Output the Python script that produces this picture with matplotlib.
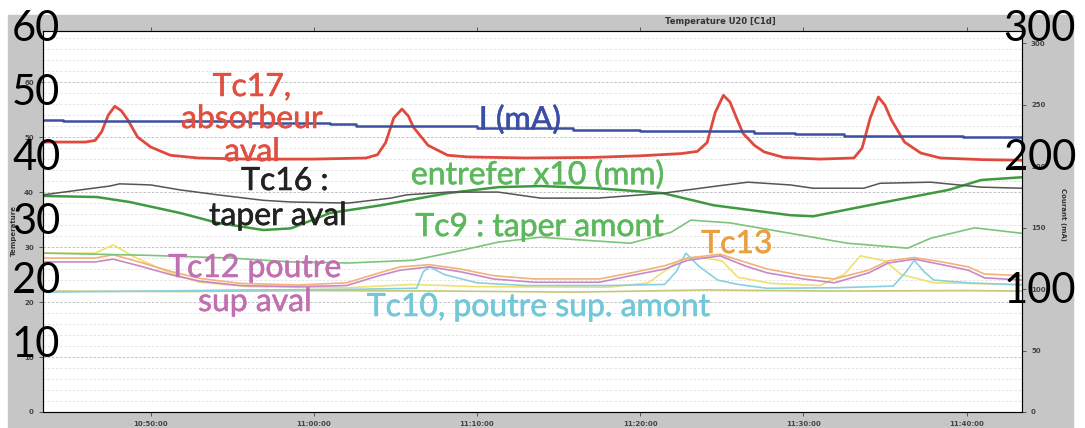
import matplotlib
matplotlib.use("Agg")
import matplotlib.pyplot as plt
import matplotlib.patheffects as pe
from matplotlib.patches import Rectangle
from matplotlib.ticker import MultipleLocator, FixedLocator

W, H = 1085, 428

# time in minutes after 10:00
x_ticks = [50, 60, 70, 80, 90, 100]
x_tick_labels = ["10:50:00", "11:00:00", "11:10:00", "11:20:00", "11:30:00", "11:40:00"]

# Tc17, absorbeur aval (red)
t_tc17 = [43.4, 46.0, 46.6, 47.0, 47.4, 47.8, 48.2, 48.6, 49.2, 50.0, 51.2, 52.9, 56.0, 60.0,
          63.2, 63.9, 64.4, 64.9, 65.4, 65.8, 66.1, 67.0, 68.2, 69.4, 73.0, 77.0, 80.0, 82.5,
          83.5, 84.1, 84.6, 85.1, 85.5, 85.9, 86.3, 87.0, 87.6, 88.8, 91.0, 93.1, 93.6, 94.1,
          94.6, 95.0, 95.4, 96.2, 97.2, 98.4, 101.0, 103.4]
v_tc17 = [49.1, 49.1, 49.4, 51.0, 54.0, 55.6, 54.8, 53.1, 50.0, 48.2, 46.7, 46.2, 46.0, 46.0,
          46.2, 46.8, 49.0, 53.5, 55.1, 53.8, 51.8, 48.5, 46.7, 46.4, 46.2, 46.3, 46.6, 47.0,
          47.4, 49.0, 54.5, 57.6, 56.4, 53.5, 50.7, 48.5, 47.3, 46.3, 46.0, 46.2, 48.0, 53.5,
          57.3, 55.8, 53.1, 49.1, 47.1, 46.2, 45.9, 45.8]

# Tc16 : taper aval (black)
t_tc16 = [43.4, 45.7, 47.5, 48.1, 50.0, 51.8, 54.1, 56.9, 58.6, 62.1, 64.7, 65.7, 68.2, 71.3,
          73.9, 77.4, 81.4, 84.7, 86.6, 89.2, 90.6, 93.7, 94.7, 97.8, 100.9, 103.4]
v_tc16 = [39.5, 40.4, 41.1, 41.5, 41.3, 40.4, 39.5, 38.5, 38.2, 38.0, 38.9, 39.5, 40.0, 40.0,
          38.9, 38.9, 39.8, 41.1, 41.8, 41.3, 40.7, 40.7, 41.6, 41.8, 40.9, 40.7]

# entrefer x10 (mm) (dark green)
t_entrefer = [43.4, 46.7, 48.7, 51.8, 54.1, 56.9, 58.6, 61.0, 64.1, 68.2, 71.3, 73.9, 77.4,
              81.4, 84.5, 87.6, 89.2, 90.6, 94.7, 98.9, 100.9, 103.4]
v_entrefer = [39.3, 39.1, 38.2, 36.2, 34.4, 33.1, 33.4, 36.2, 37.6, 39.8, 40.9, 41.1, 40.7,
              39.8, 37.6, 36.4, 35.8, 35.6, 38.0, 40.4, 42.2, 42.7]

# Tc9 : taper amont (light green)
t_tc9 = [43.4, 49.8, 54.9, 58.6, 62.1, 66.1, 69.2, 71.3, 73.9, 76.3, 79.4, 81.9, 83.1, 85.5,
         89.2, 92.7, 96.4, 97.8, 100.5, 103.4]
v_tc9 = [28.9, 28.5, 28.0, 27.3, 27.1, 27.6, 29.5, 30.9, 31.8, 31.3, 30.7, 32.7, 34.9, 34.4,
         32.5, 30.7, 29.8, 31.6, 33.5, 32.5]

# Tc12 poutre sup aval (magenta)
t_tc12 = [43.4, 46.6, 47.7, 49.4, 51.2, 53.0, 55.5, 59.0, 62.0, 64.0, 65.3, 67.1, 69.0, 71.0,
          73.5, 77.5, 79.6, 81.5, 82.9, 84.9, 86.5, 87.8, 90.0, 91.9, 94.0, 95.2, 96.8, 98.5,
          100.1, 101.1, 103.4]
v_tc12 = [27.3, 27.3, 27.8, 26.5, 25.0, 23.8, 23.0, 22.8, 23.0, 24.8, 25.8, 26.4, 25.5, 24.2,
          23.6, 23.6, 24.9, 26.0, 27.6, 28.4, 26.5, 25.3, 24.2, 23.5, 25.3, 27.1, 27.8, 26.8,
          25.8, 24.4, 24.0]

# Tc13 (orange)
t_tc13 = [43.4, 46.6, 47.7, 49.4, 51.2, 53.0, 55.5, 59.0, 62.0, 64.0, 65.3, 67.1, 69.0, 71.0,
          73.5, 77.5, 79.6, 81.5, 82.9, 84.9, 86.5, 87.8, 90.0, 91.9, 94.0, 95.2, 96.8, 98.5,
          100.1, 101.1, 103.4]
v_tc13 = [28.0, 28.0, 28.6, 27.2, 25.6, 24.3, 23.4, 23.1, 23.5, 25.3, 26.4, 26.8, 26.0, 24.8,
          24.2, 24.2, 25.4, 26.6, 28.0, 28.7, 27.2, 26.0, 24.8, 24.2, 25.8, 27.5, 28.1, 27.3,
          26.4, 25.1, 24.8]

# unlabelled yellow channel
t_yellow = [43.4, 46.6, 47.7, 49.0, 51.0, 53.0, 56.0, 62.0, 64.0, 66.0, 70.0, 78.0, 80.5,
            82.5, 83.5, 85.0, 86.0, 88.0, 91.0, 92.5, 93.5, 95.0, 96.0, 98.0, 103.4]
v_yellow = [28.9, 28.9, 30.4, 28.2, 25.5, 23.6, 22.8, 22.6, 22.9, 23.2, 22.8, 22.7, 23.5,
            27.8, 28.2, 27.5, 24.5, 23.4, 23.0, 25.0, 28.4, 27.5, 25.0, 23.5, 23.2]

# unlabelled olive channel
t_olive = [43.4, 52.0, 60.0, 68.0, 76.0, 84.0, 92.0, 100.0, 103.4]
v_olive = [22.0, 21.9, 22.1, 22.0, 21.8, 22.2, 22.0, 22.1, 22.0]

# Tc10, poutre sup. amont (cyan)
t_tc10 = [43.4, 50.0, 56.0, 62.0, 66.3, 66.7, 67.1, 68.0, 70.0, 73.0, 78.0, 81.5, 82.2, 82.8,
          83.6, 84.75, 86.0, 87.8, 92.0, 95.5, 96.3, 96.8, 97.4, 98.0, 100.1, 103.4]
v_tc10 = [21.8, 22.0, 22.2, 22.3, 22.5, 25.5, 26.4, 25.0, 23.5, 23.0, 23.0, 23.2, 25.5, 28.9,
          26.5, 24.0, 23.2, 22.5, 22.6, 22.9, 25.5, 27.6, 25.5, 24.0, 23.5, 23.1]

# I (mA), right axis
t_current = [43.4, 44.6, 52.0, 56.0, 61.0, 62.6, 70.0, 75.9, 80.0, 87.0, 89.5, 92.5, 99.8, 103.4]
v_current = [237.5, 237.0, 236.4, 235.4, 234.0, 232.6, 231.0, 229.8, 228.6, 227.0, 226.0,
             224.6, 223.4, 222.8]

fig = plt.figure(figsize=(W / 100, H / 100), dpi=100)
fig.patch.set_facecolor("white")
fig.patches.append(Rectangle((8 / W, 0), (1073 - 8) / W, (H - 15) / H,
                             transform=fig.transFigure, color="#c6c6c6", zorder=-10))

ax = fig.add_axes([43 / W, (H - 412) / H, (1022 - 43) / W, (412 - 31) / H])
ax.set_facecolor("white")
ax.set_xlim(43.4, 103.4)
ax.set_ylim(0, 69.3)
ax.yaxis.set_major_locator(FixedLocator([0, 10, 20, 30, 40, 50, 60]))
ax.yaxis.set_minor_locator(MultipleLocator(2))
ax.xaxis.set_major_locator(FixedLocator(x_ticks))
ax.set_xticklabels(x_tick_labels)
ax.grid(True, which="minor", axis="y", color="#e0e0e0", lw=0.6, ls=(0, (3, 2)))
ax.grid(True, which="major", axis="y", color="#b8b8b8", lw=0.6, ls=(0, (3, 2)))
ax.tick_params(axis="both", which="major", labelsize=5, colors="#444444", length=3, width=0.6)
ax.tick_params(axis="y", which="minor", length=0)
ax.tick_params(axis="x", top=True)
for lbl in ax.get_xticklabels() + ax.get_yticklabels():
    lbl.set_fontweight("bold")
for s in ax.spines.values():
    s.set_color("#555555")
    s.set_linewidth(0.8)

ax.plot(t_olive, v_olive, color="#c8c87a", lw=1.2)
ax.plot(t_yellow, v_yellow, color="#f0e070", lw=1.2)
ax.plot(t_tc10, v_tc10, color="#88d0e0", lw=1.2)
ax.plot(t_tc13, v_tc13, color="#f2b27a", lw=1.2)
ax.plot(t_tc12, v_tc12, color="#c888c8", lw=1.2)
ax.plot(t_tc9, v_tc9, color="#7cc47c", lw=1.2)
ax.plot(t_entrefer, v_entrefer, color="#3f9a3f", lw=1.8)
ax.plot(t_tc16, v_tc16, color="#555555", lw=1.1)
ax.plot(t_tc17, v_tc17, color="#e04a3e", lw=2.0)

ax2 = ax.twinx()
ax2.set_ylim(0, 310)
ax2.yaxis.set_major_locator(FixedLocator([0, 50, 100, 150, 200, 250, 300]))
ax2.tick_params(axis="y", labelsize=5, colors="#444444", length=3, width=0.6)
for lbl in ax2.get_yticklabels():
    lbl.set_fontweight("bold")
ax2.plot(t_current, v_current, color="#3c50a0", lw=1.8, drawstyle="steps-post")

fig.text(720 / W, 1 - 21 / H, "Temperature U20 [C1d]", fontsize=6, color="#333333",
         ha="center", va="center", fontweight="bold")
fig.text(14 / W, 1 - 230 / H, "Temperature", fontsize=5, color="#333333", rotation=90,
         ha="center", va="center", fontweight="bold")
fig.text(1063 / W, 1 - 215 / H, "Courant (mA)", fontsize=5, color="#333333", rotation=270,
         ha="center", va="center", fontweight="bold")


def put(x, y, s, color, size, ha="left", stroke=0.0):
    t = fig.text(x / W, 1 - y / H, s, fontsize=size, color=color, ha=ha, va="center",
                 family=["Lato", "DejaVu Sans"])
    if stroke:
        t.set_path_effects([pe.withStroke(linewidth=stroke, foreground=color)])


# big axis labels laid over the screenshot
for y, s in zip([29, 93, 158, 222, 281, 345], ["60", "50", "40", "30", "20", "10"]):
    put(12, y, s, "black", 30)
for y, s in zip([29, 158, 291], ["300", "200", "100"]):
    put(1076, y, s, "black", 30, ha="right")

put(252, 87, "Tc17,", "#e05040", 23, ha="center", stroke=0.4)
put(252, 119, "absorbeur", "#e05040", 23, ha="center", stroke=0.4)
put(252, 152, "aval", "#e05040", 23, ha="center", stroke=0.4)
put(285, 181, "Tc16 :", "#222222", 23, ha="center", stroke=0.4)
put(278, 216, "taper aval", "#222222", 23, ha="center", stroke=0.4)
put(520, 120, "I (mA)", "#3a4ea6", 23, ha="center", stroke=0.4)
put(538, 175, "entrefer x10 (mm)", "#5cb85c", 23, ha="center", stroke=0.4)
put(540, 227, "Tc9 : taper amont", "#5cb85c", 23, ha="center", stroke=0.4)
put(737, 244, "Tc13", "#e8a040", 23, ha="center", stroke=0.4)
put(255, 268, "Tc12 poutre", "#c070b0", 23, ha="center", stroke=0.4)
put(255, 302, "sup aval", "#c070b0", 23, ha="center", stroke=0.4)
put(539, 307, "Tc10, poutre sup. amont", "#70c8d8", 23, ha="center", stroke=0.4)

fig.savefig("out.png", dpi=100)
